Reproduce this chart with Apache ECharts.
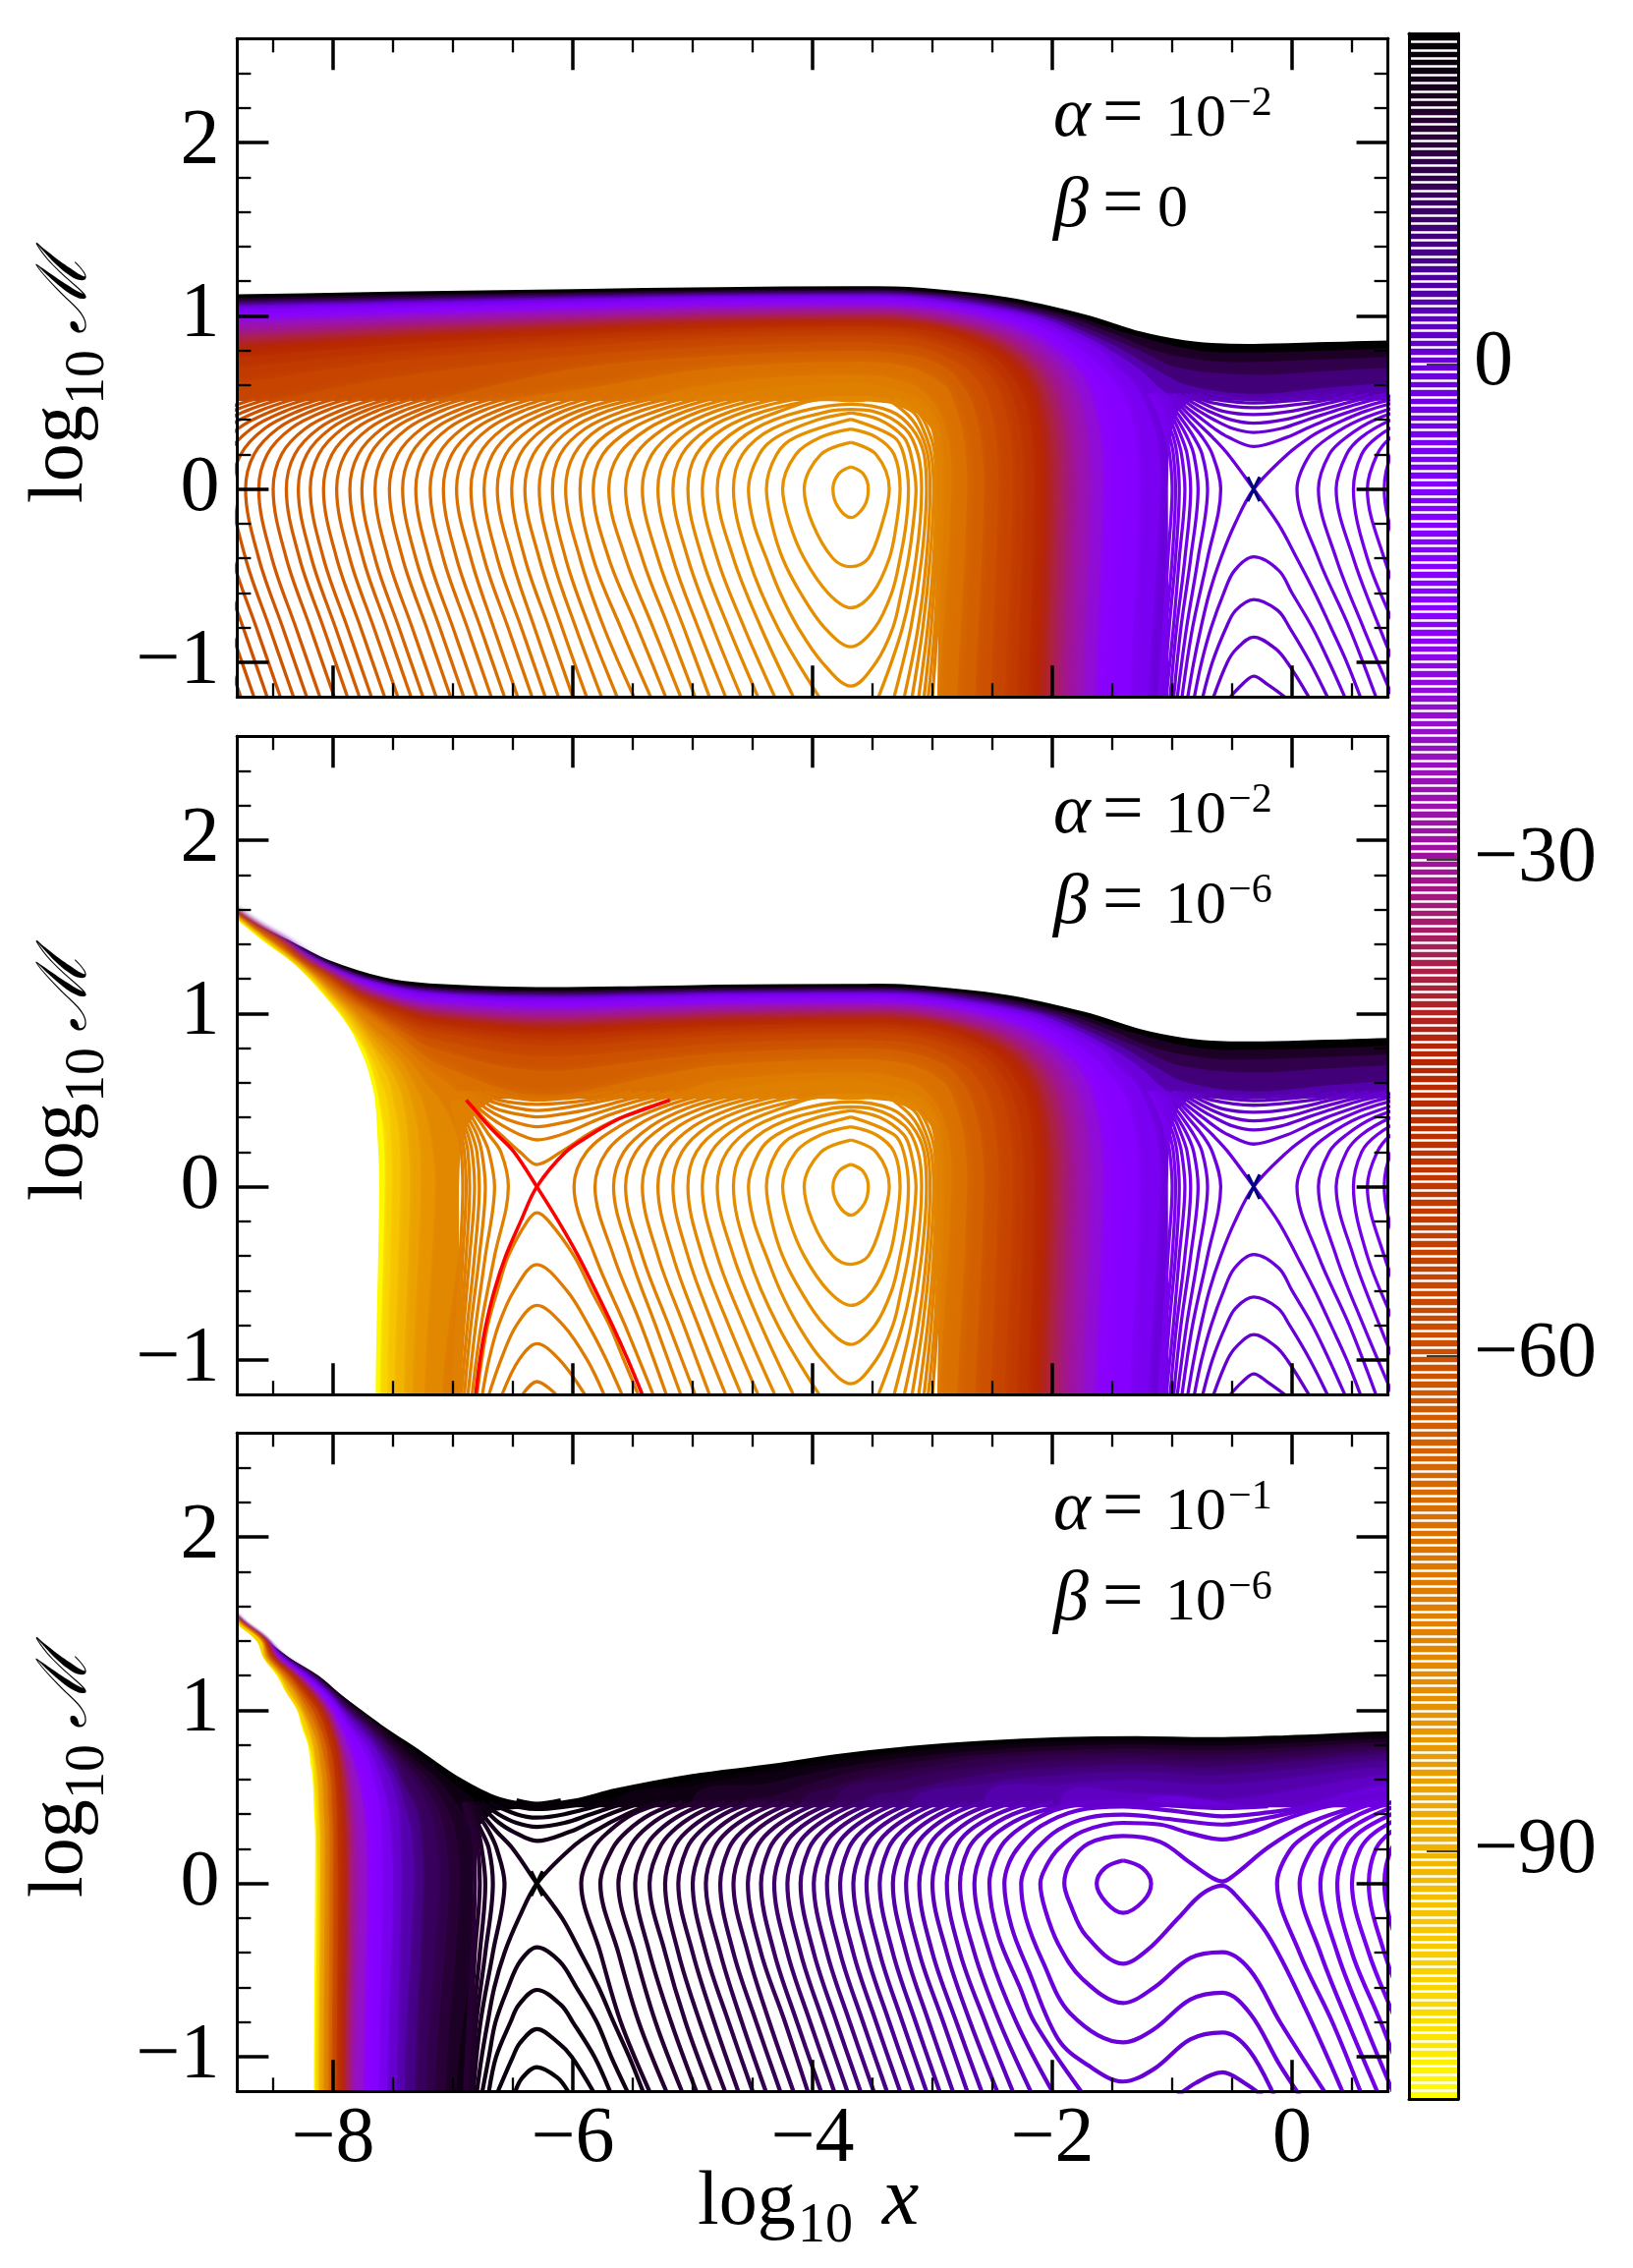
<!DOCTYPE html>
<html><head><meta charset="utf-8"><style>html,body{margin:0;background:#fff}#c{width:1662px;height:2308px}</style>
<script src="https://cdn.jsdelivr.net/npm/echarts@6/dist/echarts.min.js"></script></head><body><div id="c"></div>
<script>
// ---------- colour scale (colour bar) ----------
const cmapL=[20,15,10,5,0,-8,-15,-22,-30,-36,-42,-50,-60,-70,-76,-85,-94,-100,-105];
const cmapC=['#000000','#24002e','#38005c','#4f00a0','#6a00da','#8300ff','#8a00ff','#9310c8','#a0129c','#aa2050','#b62500','#c03800','#cc5000','#da7000','#e08000','#ea9e00','#f6c400','#fadc00','#ffff00'];
const cbarTicks=[0,-30,-60,-90];
const xMajor=[-8,-6,-4,-2,0];
const xMinor=[-8.5,-7.5,-7,-6.5,-5.5,-5,-4.5,-3.5,-3,-2.5,-1.5,-1,-.5,.5];
const yMajor=[-1,0,1,2];
const yMinor=[-.8,-.6,-.4,-.2,.2,.4,.6,.8,1.2,1.4,1.6,1.8,2.2,2.4];
// ---------- closed loops around the centre well, panels 1 and 2 (x,M pairs) ----------
const loops=[
[-3.68,.129,-3.58,.09,-3.535,0,-3.57,-.1,-3.68,-.164,-3.79,-.1,-3.83,0,-3.78,.09,-3.68,.129],
[-3.68,.27,-3.47,.2,-3.36,0,-3.42,-.2,-3.535,-.4,-3.68,-.448,-3.83,-.4,-4,-.2,-4.07,0,-3.93,.2,-3.68,.27],
[-3.68,.346,-3.47,.3,-3.32,.2,-3.27,0,-3.3,-.2,-3.36,-.4,-3.5,-.6,-3.68,-.685,-3.87,-.6,-4.07,-.4,-4.19,-.2,-4.25,0,-4.14,.2,-3.93,.3,-3.68,.346],
[-3.68,.403,-3.32,.3,-3.24,.2,-3.2,0,-3.22,-.2,-3.27,-.4,-3.34,-.6,-3.48,-.8,-3.68,-.91,-3.9,-.8,-4.1,-.6,-4.25,-.4,-4.34,-.2,-4.385,0,-4.3,.2,-4.14,.3,-3.68,.403],
[-3.68,.44,-3.44,.4,-3.24,.3,-3.18,.2,-3.137,0,-3.16,-.2,-3.2,-.4,-3.26,-.6,-3.33,-.8,-3.47,-1,-3.68,-1.137,-3.92,-1,-4.12,-.8,-4.27,-.6,-4.385,-.4,-4.49,-.2,-4.535,0,-4.445,.2,-4.3,.3,-3.96,.4,-3.68,.44]];
// ---------- left arcs: x at each M of arcRows, index = contour number from the well ----------
const arcRows=[-1.2,-.8,-.4,0,.2,.35,.45,.52];
const arcFirst=5;
const arcsP1=[
[-3.945,-4.29,-4.535,-4.66,-4.585,-4.33,-3.86],
[-4.16,-4.43,-4.66,-4.795,-4.715,-4.475,-4.09],
[-4.315,-4.57,-4.795,-4.92,-4.845,-4.61,-4.27,-3.9],
[-4.455,-4.7,-4.92,-5.04,-4.97,-4.74,-4.4,-3.94],
[-4.595,-4.83,-5.04,-5.165,-5.09,-4.87,-4.55,-4.15],
[-4.725,-4.955,-5.165,-5.29,-5.215,-4.99,-4.675,-4.31],
[-4.86,-5.075,-5.29,-5.42,-5.34,-5.115,-4.81,-4.45],
[-4.98,-5.2,-5.42,-5.56,-5.475,-5.24,-4.935,-4.59],
[-5.1,-5.33,-5.56,-5.7,-5.615,-5.37,-5.055,-4.72],
[-5.225,-5.46,-5.7,-5.83,-5.75,-5.505,-5.18,-4.85],
[-5.35,-5.6,-5.83,-5.94,-5.875,-5.645,-5.305,-4.97],
[-5.49,-5.74,-5.94,-6.06,-5.99,-5.78,-5.44,-5.095],
[-5.63,-5.86,-6.06,-6.17,-6.105,-5.895,-5.58,-5.22],
[-5.76,-5.975,-6.17,-6.28,-6.215,-6.01,-5.715,-5.35],
[-5.885,-6.09,-6.28,-6.4,-6.33,-6.125,-5.845,-5.48],
[-6,-6.2,-6.4,-6.51,-6.44,-6.24,-5.96,-5.62],
[-6.12,-6.32,-6.51,-6.63,-6.56,-6.35,-6.08,-5.77],
[-6.23,-6.43,-6.63,-6.74,-6.67,-6.47,-6.19,-5.89],
[-6.34,-6.54,-6.74,-6.85,-6.78,-6.58,-6.3,-6],
[-6.46,-6.66,-6.85,-6.97,-6.9,-6.7,-6.42,-6.12],
[-6.57,-6.77,-6.97,-7.08,-7.01,-6.81,-6.53,-6.23],
[-6.68,-6.88,-7.08,-7.19,-7.12,-6.92,-6.64,-6.34],
[-6.8,-7,-7.2,-7.31,-7.24,-7.04,-6.76,-6.46],
[-6.91,-7.11,-7.31,-7.42,-7.35,-7.15,-6.87,-6.57],
[-7.02,-7.22,-7.42,-7.53,-7.46,-7.26,-6.98,-6.68],
[-7.14,-7.34,-7.54,-7.65,-7.58,-7.38,-7.1,-6.8],
[-7.25,-7.45,-7.65,-7.76,-7.69,-7.49,-7.21,-6.91],
[-7.35,-7.55,-7.75,-7.86,-7.79,-7.59,-7.31,-7.01],
[-7.46,-7.66,-7.86,-7.97,-7.9,-7.7,-7.42,-7.12],
[-7.57,-7.77,-7.97,-8.08,-8.01,-7.81,-7.53,-7.23],
[-7.68,-7.88,-8.08,-8.19,-8.12,-7.92,-7.64,-7.34],
[-7.78,-7.98,-8.18,-8.29,-8.22,-8.02,-7.74,-7.44],
[-7.88,-8.08,-8.28,-8.39,-8.32,-8.12,-7.84,-7.54],
[-7.99,-8.19,-8.39,-8.5,-8.43,-8.23,-7.95,-7.65],
[-8.11,-8.31,-8.51,-8.62,-8.55,-8.35,-8.07,-7.77],
[-8.22,-8.42,-8.62,-8.73,-8.66,-8.46,-8.18,-7.88],
[-8.33,-8.53,-8.73,-8.84,-8.77,-8.57,-8.29,-7.99],
[-8.44,-8.64,-8.84,-8.95,-8.88,-8.68,-8.4,-8.1],
[-8.55,-8.75,-8.95,-9.06,-8.99,-8.79,-8.51,-8.21],
[-8.66,-8.86,-9.06,-9.17,-9.1,-8.9,-8.62,-8.32],
[-8.77,-8.97,-9.17,-9.28,-9.21,-9.01,-8.73,-8.43],
[-8.88,-9.08,-9.28,-9.39,-9.32,-9.12,-8.84,-8.54],
[-8.99,-9.19,-9.39,-9.5,-9.43,-9.23,-8.95,-8.65]];
const arcsP2Near=[ // contours 13,14,15 of panel 2
[-5.1,-5.31,-5.52,-5.66,-5.575,-5.345,-5.055,-4.72],
[-5.22,-5.43,-5.66,-5.815,-5.72,-5.47,-5.175,-4.85],
[-5.33,-5.565,-5.815,-5.99,-5.885,-5.61,-5.29,-4.97]];
// right branches of the same arcs, contours 5..12
const rightArcs=[
[-3.45,-3.25,-3.137,-3.09,-3.12,-3.23,-3.5],
[-3.32,-3.18,-3.09,-3.05,-3.07,-3.17,-3.35],
[-3.235,-3.12,-3.05,-3.02,-3.04,-3.12,-3.24,-3.42],
[-3.17,-3.08,-3.02,-2.99,-3.01,-3.08,-3.17,-3.45],
[-3.115,-3.04,-2.99,-2.97,-2.98,-3.04,-3.13,-3.32],
[-3.07,-3.01,-2.97,-2.95,-2.96,-3,-3.08,-3.24],
[-3.035,-2.98,-2.95,-2.93,-2.94,-2.97,-3.04,-3.17],
[-3,-2.96,-2.93,-2.91,-2.92,-2.95,-3.01,-3.11]];
const archTops=[.46,.49,.51,.53];
// ---------- saddle near x=-0.32, panels 1 and 2 ----------
const sadRows=[-1.2,-.8,-.4,0,.2,.3,.4,.5,.55];
const sadLeft=[
[-.918,-.83,-.705,-.595,-.665,-.75,-.87,-.99,-1.06],[-.957,-.88,-.784,-.705,-.75,-.82,-.917,-1.025,-1.08],
[-.987,-.927,-.846,-.784,-.82,-.875,-.956,-1.05,-1.1],[-1.017,-.963,-.894,-.846,-.875,-.922,-.985,-1.07,-1.12],
[-1.05,-.99,-.941,-.894,-.922,-.96,-1.015,-1.095,-1.14],[-1.07,-1.025,-.972,-.941,-.96,-.99,-1.05,-1.11,-1.16],
[-1.09,-1.05,-1,-.972,-.99,-1.02,-1.07,-1.13,-1.18],[-1.11,-1.07,-1.035,-1,-1.02,-1.05,-1.09,-1.15,-1.2]];
const sadRight=[
[.7,.478,.22,.041,.15,.31,.565,.99,1.28],[.84,.595,.368,.22,.31,.454,.69,1.11,1.38],
[.97,.73,.512,.368,.454,.58,.83,1.23,1.5],[1.09,.86,.628,.512,.58,.71,.96,1.35,1.6],
[1.2,.99,.769,.628,.71,.83,1.08,1.45,1.7],[1.32,1.11,.9,.769,.83,.96,1.2,1.55,1.8]];
const sadCross=[
[0,-1.04,.55,-.96,.5,-.89,.45,-.815,.4,-.74,.35,-.665,.3,-.533,.2,-.32,0,-.116,-.2,.041,-.4,.19,-.6,.325,-.8,.457,-1,.57,-1.2],
[0,-.87,-1.2,-.82,-1,-.76,-.8,-.69,-.6,-.595,-.4,-.476,-.2,-.32,0,-.04,.2,.15,.3,.28,.35,.436,.4,.614,.45,.86,.5,1.16,.55],
[1,-1,.55,-.93,.5,-.84,.45,-.745,.4,-.65,.35,-.533,.3,-.32,.246,-.04,.3,.12,.35,.29,.4,.495,.45,.727,.5,1.04,.55],
[1,-.815,-1.2,-.755,-1,-.675,-.8,-.57,-.6,-.48,-.47,-.32,-.391,-.11,-.47,0,-.6,.17,-.8,.31,-1,.44,-1.2],
[2,-.975,.55,-.88,.5,-.775,.45,-.65,.4,-.495,.35,-.32,.327,-.09,.35,.125,.4,.35,.45,.59,.5,.91,.55],
[2,-.745,-1.2,-.665,-1,-.55,-.8,-.47,-.7,-.32,-.637,-.12,-.7,-.02,-.8,.15,-1,.295,-1.2],
[3,-.945,.55,-.83,.5,-.695,.45,-.51,.4,-.32,.38,-.07,.4,.2,.45,.47,.5,.78,.55],
[3,-.655,-1.2,-.54,-1,-.46,-.92,-.32,-.854,-.14,-.92,-.04,-1,.14,-1.2],
[4,-.9,.55,-.76,.5,-.58,.45,-.32,.43,0,.45,.325,.5,.64,.55],
[4,-.515,-1.2,-.42,-1.13,-.32,-1.08,-.2,-1.13,-.06,-1.2],
[5,-.85,.55,-.675,.5,-.32,.47,.17,.5,.52,.55],
[6,-.79,.55,-.66,.52,-.32,.497,.14,.52,.38,.55],
[7,-.71,.55,-.32,.516,.23,.55]];
const navyX=[[-.37,.07,-.32,0,-.27,-.07],[-.37,-.07,-.32,0,-.27,.07]];
// ---------- saddle near x=-6.3, panel 2 ----------
const p2Rows=[-1.2,-.8,-.4,0,.2,.3,.4,.5];
const p2Left=[
[-6.84,-6.765,-6.653,-6.538,-6.6,-6.7,-6.8,-6.91],[-6.875,-6.81,-6.73,-6.653,-6.7,-6.76,-6.84,-6.93],
[-6.905,-6.85,-6.78,-6.73,-6.76,-6.8,-6.875,-6.955],[-6.93,-6.88,-6.82,-6.78,-6.8,-6.84,-6.905,-6.97],
[-6.95,-6.91,-6.86,-6.82,-6.84,-6.875,-6.93,-6.98],[-6.97,-6.93,-6.89,-6.86,-6.875,-6.905,-6.95,-7],
[-6.99,-6.95,-6.918,-6.89,-6.905,-6.93,-6.97,-7.01],[-7,-6.97,-6.94,-6.918,-6.93,-6.95,-6.98,-7.02]];
const p2Cross=[
[1,-6.94,.55,-6.88,.5,-6.81,.45,-6.75,.4,-6.68,.35,-6.6,.3,-6.44,.2,-6.3,.128,-6.1,.2,-5.88,.3,-5.75,.35,-5.59,.4,-5.41,.45,-5.19,.5,-4.9,.55],
[1,-6.8,-1.2,-6.76,-1,-6.71,-.8,-6.63,-.6,-6.538,-.4,-6.38,-.2,-6.3,-.15,-6.2,-.2,-5.99,-.4,-5.845,-.6,-5.695,-.8,-5.575,-1,-5.455,-1.2],
[2,-6.92,.55,-6.85,.5,-6.78,.45,-6.69,.4,-6.58,.35,-6.44,.3,-6.3,.27,-6.1,.3,-5.92,.35,-5.75,.4,-5.54,.45,-5.31,.5,-5.03,.55],
[2,-6.755,-1.2,-6.7,-1,-6.62,-.8,-6.49,-.6,-6.3,-.449,-6.05,-.6,-5.87,-.8,-5.72,-1,-5.59,-1.2],
[3,-6.89,.55,-6.81,.5,-6.72,.45,-6.59,.4,-6.47,.37,-6.3,.346,-6.08,.37,-5.91,.4,-5.68,.45,-5.43,.5,-5.15,.55],
[3,-6.7,-1.2,-6.6,-1,-6.47,-.8,-6.3,-.685,-6.08,-.8,-5.88,-1,-5.74,-1.2],
[4,-6.86,.55,-6.76,.5,-6.64,.45,-6.47,.42,-6.3,.403,-6.08,.42,-5.84,.45,-5.56,.5,-5.27,.55],
[4,-6.59,-1.2,-6.45,-1,-6.3,-.906,-6.11,-1,-5.9,-1.2],
[5,-6.82,.55,-6.71,.5,-6.51,.46,-6.3,.44,-6.03,.46,-5.71,.5,-5.39,.55],
[5,-6.42,-1.2,-6.3,-1.125,-6.14,-1.2],
[6,-6.78,.55,-6.62,.5,-6.3,.475,-5.86,.5,-5.51,.55],
[7,-6.73,.55,-6.3,.5,-5.65,.55]];
const redArms=[
[-6.89,.5,-6.825,.45,-6.765,.4,-6.7,.35,-6.63,.3,-6.49,.2,-6.3,0,-6.12,-.2,-5.955,-.4,-5.81,-.6,-5.67,-.8,-5.54,-1,-5.42,-1.2],
[-6.81,-1.2,-6.775,-1,-6.725,-.8,-6.655,-.6,-6.56,-.4,-6.435,-.2,-6.3,0,-6.06,.2,-5.85,.3,-5.73,.35,-5.59,.4,-5.39,.45,-5.19,.5]];
// ---------- panel 3 contours ----------
const p3Rows=[-1.2,-.8,-.4,0,.2,.3,.4,.47];
const p3First=6;
const p3Arcs=[
[-2,-2.3,-2.525,-2.65,-2.575,-2.45,-2.18,-1.75],[-2.18,-2.44,-2.65,-2.77,-2.7,-2.575,-2.33,-1.99],
[-2.33,-2.56,-2.77,-2.88,-2.81,-2.7,-2.46,-2.17],[-2.46,-2.685,-2.88,-3,-2.93,-2.81,-2.59,-2.32],
[-2.59,-2.8,-3,-3.11,-3.04,-2.93,-2.71,-2.45],[-2.71,-2.91,-3.11,-3.22,-3.15,-3.04,-2.83,-2.58],
[-2.83,-3.03,-3.22,-3.33,-3.26,-3.15,-2.94,-2.71],[-2.94,-3.14,-3.33,-3.44,-3.37,-3.26,-3.05,-2.82],
[-3.05,-3.25,-3.44,-3.55,-3.48,-3.37,-3.16,-2.94],[-3.16,-3.36,-3.55,-3.66,-3.59,-3.48,-3.27,-3.05],
[-3.27,-3.47,-3.66,-3.77,-3.7,-3.59,-3.38,-3.16],[-3.38,-3.58,-3.77,-3.88,-3.81,-3.7,-3.49,-3.27],
[-3.49,-3.69,-3.88,-3.99,-3.92,-3.81,-3.6,-3.38],[-3.6,-3.8,-3.99,-4.1,-4.03,-3.92,-3.71,-3.49],
[-3.71,-3.91,-4.1,-4.21,-4.14,-4.03,-3.82,-3.6],[-3.82,-4.02,-4.21,-4.32,-4.25,-4.14,-3.93,-3.71],
[-3.93,-4.13,-4.32,-4.43,-4.36,-4.25,-4.04,-3.82],[-4.04,-4.23,-4.43,-4.54,-4.47,-4.36,-4.15,-3.93],
[-4.16,-4.36,-4.54,-4.66,-4.59,-4.48,-4.27,-4.04],[-4.27,-4.47,-4.66,-4.77,-4.7,-4.59,-4.38,-4.16],
[-4.39,-4.59,-4.77,-4.89,-4.82,-4.71,-4.5,-4.27],[-4.5,-4.7,-4.89,-5,-4.93,-4.82,-4.62,-4.39],
[-4.62,-4.82,-5,-5.12,-5.05,-4.94,-4.74,-4.5],[-4.73,-4.94,-5.12,-5.23,-5.16,-5.05,-4.85,-4.62],
[-4.85,-5.06,-5.23,-5.36,-5.28,-5.17,-4.97,-4.73],[-4.97,-5.18,-5.36,-5.48,-5.4,-5.29,-5.09,-4.85],
[-5.09,-5.31,-5.48,-5.62,-5.53,-5.42,-5.22,-4.97],[-5.22,-5.45,-5.62,-5.77,-5.67,-5.55,-5.35,-5.09],
[-5.36,-5.6,-5.77,-5.93,-5.83,-5.7,-5.5,-5.22]];
const p3Well=[ // [contour number, x,M, ...]
[0,-1.41,.133,-1.25,.09,-1.176,0,-1.24,-.1,-1.41,-.17,-1.55,-.11,-1.63,0,-1.56,.09,-1.41,.133],
[1,.8,.49,.42,.42,.11,.34,-.2,.208,-.48,.05,-.58,.012,-.66,.03,-.85,.12,-1.1,.24,-1.41,.274,-1.7,.23,-1.85,.12,-1.9,0,-1.85,-.12,-1.72,-.3,-1.41,-.463,-1.2,-.38,-.95,-.2,-.75,-.06,-.58,-.012,-.48,-.06,-.2,-.3,.11,-.72,.42,-1.2],
[2,.8,.5,.5,.47,.2,.43,-.1,.36,-.35,.29,-.58,.254,-.85,.29,-1.1,.34,-1.41,.35,-1.75,.3,-1.95,.2,-2.05,.1,-2.1,0,-2.06,-.15,-1.95,-.35,-1.75,-.55,-1.41,-.69,-1.15,-.6,-.85,-.43,-.58,-.397,-.35,-.5,-.1,-.8,.27,-1.2],
[3,.8,.51,.2,.44,-.2,.38,-.58,.34,-1,.37,-1.41,.397,-1.7,.38,-1.95,.31,-2.13,.2,-2.22,.1,-2.26,0,-2.22,-.2,-2.08,-.45,-1.85,-.75,-1.41,-.917,-1.15,-.84,-.85,-.67,-.58,-.63,-.35,-.75,-.1,-1.05,.14,-1.3],
[4,.8,.52,.2,.45,-.2,.41,-.58,.388,-1,.42,-1.41,.444,-1.8,.42,-2.1,.33,-2.27,.22,-2.36,.12,-2.4,0,-2.34,-.25,-2.2,-.5,-1.95,-.9,-1.7,-1.05,-1.41,-1.143,-1.15,-1.07,-.85,-.9,-.58,-.86,-.35,-.97,-.1,-1.3],
[5,-.2,.445,-.58,.435,-1,.45,-1.41,.476,-1.9,.44,-2.2,.35,-2.4,.24,-2.49,.12,-2.525,0,-2.45,-.3,-2.27,-.6,-2.15,-.8,-1.76,-1.2],
[5,-1,-1.25,-.8,-1.15,-.58,-1.09,-.4,-1.15,-.2,-1.25]];
const p3RightLevels=[0,-1,-2,-3,-4,-5,-6];
const p3Right=[
[.57,.336,.063,-.125,-.01,.167,.435,.71],[.71,.465,.236,.063,.167,.32,.565,.84],
[.84,.6,.377,.236,.32,.45,.7,.97],[.96,.74,.5,.377,.45,.57,.83,1.1],
[1.08,.87,.64,.5,.57,.7,.96,1.2],[1.2,.99,.77,.64,.7,.83,1.08,1.3],[1.3,1.1,.9,.77,.83,.96,1.2,1.4]];
const p3Left=[
[-6.83,-6.77,-6.667,-6.57,-6.635,-6.7,-6.79,-6.85],[-6.85,-6.805,-6.73,-6.667,-6.7,-6.76,-6.83,-6.87],
[-6.87,-6.83,-6.776,-6.73,-6.76,-6.79,-6.85,-6.89],[-6.89,-6.85,-6.817,-6.776,-6.79,-6.82,-6.87,-6.9],
[-6.9,-6.87,-6.84,-6.817,-6.82,-6.84,-6.89,-6.91]];
const p3Cross=[
[0,-6.83,.47,-6.755,.4,-6.635,.3,-6.5,.2,-6.3,0,-6.09,-.2,-5.934,-.4,-5.785,-.6,-5.66,-.8,-5.53,-1,-5.415,-1.2],
[0,-6.8,-1.2,-6.76,-1,-6.71,-.8,-6.655,-.6,-6.57,-.4,-6.45,-.2,-6.3,0,-6.02,.2,-5.82,.3,-5.55,.4,-5.29,.47],
[1,-6.8,.47,-6.695,.4,-6.615,.35,-6.5,.3,-6.3,.246,-6.02,.3,-5.86,.35,-5.695,.4,-5.41,.47],
[1,-6.755,-1.2,-6.7,-1,-6.645,-.8,-6.54,-.6,-6.44,-.45,-6.3,-.368,-6.11,-.45,-5.97,-.6,-5.8,-.8,-5.68,-1,-5.545,-1.2],
[2,-6.76,.47,-6.62,.4,-6.47,.35,-6.3,.327,-6.07,.35,-5.85,.4,-5.54,.47],
[2,-6.7,-1.2,-6.64,-1,-6.52,-.8,-6.45,-.7,-6.3,-.614,-6.1,-.7,-6,-.8,-5.82,-1,-5.69,-1.2],
[3,-6.7,.47,-6.47,.4,-6.3,.38,-6.07,.4,-5.68,.47],
[3,-6.625,-1.2,-6.5,-1,-6.44,-.92,-6.3,-.84,-6.12,-.92,-6.01,-1,-5.83,-1.2],
[4,-6.62,.47,-6.3,.43,-5.83,.47],
[4,-6.48,-1.2,-6.42,-1.12,-6.3,-1.06,-6.13,-1.12,-6.04,-1.2],
[5,-6.47,.48,-6.3,.46,-6.1,.48]];
const blackX=[[-6.35,.07,-6.3,0,-6.25,-.07],[-6.35,-.07,-6.3,0,-6.25,.07]];
// ---------- dense contour bands, read as level curves ----------
const bandL=[20,16,12,8,4,0,-5,-10,-15,-20,-25,-28,-31,-34,-37,-40,-43,-47,-51,-55,-60,-65,-70,-74,-76];
const bandRight=[
[-4.8,1.157,-3.68,1.162,-3.2,1.158,-2.39,1.1,-1.73,1,-1.26,.9,-.9,.85,-.67,.835,-.32,.83,.3,.84,1.2,.855],
[-4.8,1.149,-3.68,1.153,-3.2,1.149,-2.49,1.1,-1.82,1,-1.38,.9,-.78,.8,-.32,.79,.3,.8,1.2,.82],
[-4.8,1.14,-3.68,1.145,-3.2,1.141,-2.58,1.1,-1.9,1,-1.5,.9,-1.14,.8,-.67,.74,-.32,.735,.3,.75,1.2,.77],
[-4.8,1.131,-3.68,1.136,-3.2,1.132,-2.7,1.1,-1.99,1,-1.61,.9,-1.27,.8,-.94,.7,-.32,.66,.3,.682,1.2,.71],
[-4.8,1.122,-3.68,1.127,-3.2,1.122,-2.83,1.1,-2.07,1,-1.7,.9,-1.4,.8,-1.16,.7,-.87,.6,-.32,.55,.3,.585,1.2,.625],
[-4.8,1.111,-3.68,1.117,-3.2,1.112,-3,1.1,-2.15,1,-1.78,.9,-1.51,.8,-1.29,.7,-1.13,.6,-1,.5,-.98,-1.6],
[-4.8,1.097,-3.68,1.103,-3.2,1.098,-2.26,1,-1.88,.9,-1.6,.8,-1.46,.7,-1.31,.6,-1.23,.5,-1.13,.3,-1.1,0,-1.21,-1.3,-1.21,-1.6],
[-4.8,1.083,-3.68,1.09,-3.2,1.084,-2.38,1,-1.99,.9,-1.76,.8,-1.59,.7,-1.47,.6,-1.38,.5,-1.31,.3,-1.28,0,-1.36,-1.3,-1.36,-1.6],
[-4.8,1.067,-3.68,1.075,-3.2,1.068,-2.51,1,-2.09,.9,-1.85,.8,-1.7,.7,-1.6,.6,-1.53,.5,-1.47,.3,-1.44,0,-1.52,-1.3,-1.52,-1.6],
[-4.8,1.05,-3.68,1.058,-3.2,1.051,-2.63,1,-2.19,.9,-1.96,.8,-1.8,.7,-1.71,.6,-1.66,.5,-1.6,.3,-1.58,0,-1.65,-1.3,-1.65,-1.6],
[-4.8,1.033,-3.68,1.04,-3.2,1.034,-2.78,1,-2.31,.9,-2.06,.8,-1.91,.7,-1.82,.6,-1.76,.5,-1.71,.3,-1.69,0,-1.75,-1.3,-1.75,-1.6],
[-4.8,1.021,-3.68,1.03,-3.2,1.022,-2.88,1,-2.38,.9,-2.12,.8,-1.98,.7,-1.88,.6,-1.83,.5,-1.78,.3,-1.76,0,-1.81,-1.3,-1.81,-1.6],
[-4.8,1.009,-3.68,1.018,-3.2,1.01,-3.05,1,-2.45,.9,-2.18,.8,-2.03,.7,-1.94,.6,-1.89,.5,-1.84,.3,-1.82,0,-1.87,-1.3,-1.87,-1.6],
[-4.8,.996,-3.68,1.006,-3.2,.998,-2.53,.9,-2.26,.8,-2.1,.7,-2.01,.6,-1.95,.5,-1.9,.3,-1.88,0,-1.94,-1.3,-1.94,-1.6],
[-4.8,.982,-3.68,.993,-3.2,.983,-2.61,.9,-2.32,.8,-2.16,.7,-2.07,.6,-2.02,.5,-1.96,.3,-1.95,0,-2,-1.3,-2,-1.6],
[-4.8,.968,-3.68,.979,-3.2,.97,-2.7,.9,-2.39,.8,-2.22,.7,-2.13,.6,-2.08,.5,-2.03,.3,-2.01,0,-2.06,-1.3,-2.06,-1.6],
[-4.8,.951,-3.68,.964,-3.2,.953,-2.78,.9,-2.46,.8,-2.29,.7,-2.19,.6,-2.14,.5,-2.09,.3,-2.07,0,-2.12,-1.3,-2.12,-1.6],
[-4.8,.927,-3.68,.941,-3.2,.929,-2.92,.9,-2.56,.8,-2.39,.7,-2.29,.6,-2.22,.5,-2.17,.3,-2.15,0,-2.2,-1.3,-2.2,-1.6],
[-4.8,.9,-3.68,.918,-3.2,.903,-2.67,.8,-2.49,.7,-2.38,.6,-2.32,.5,-2.26,.3,-2.24,0,-2.3,-1.3,-2.3,-1.6],
[-4.8,.872,-3.68,.888,-3.2,.873,-2.8,.8,-2.58,.7,-2.47,.6,-2.41,.5,-2.35,.3,-2.33,0,-2.4,-1.3,-2.4,-1.6],
[-4.8,.827,-3.68,.848,-3.2,.83,-3,.8,-2.73,.7,-2.6,.6,-2.53,.5,-2.47,.3,-2.45,0,-2.52,-1.3,-2.52,-1.6],
[-4.8,.77,-3.68,.797,-3.2,.775,-2.89,.7,-2.75,.6,-2.67,.5,-2.6,.3,-2.57,0,-2.65,-1.3,-2.65,-1.6],
[-4.8,.7,-3.68,.735,-3.2,.705,-2.9,.6,-2.82,.5,-2.74,.3,-2.71,0,-2.8,-1.3,-2.8,-1.6],
[-4.8,.61,-3.68,.66,-3.2,.613,-2.99,.5,-2.87,.3,-2.84,0,-2.95,-1.3,-2.95,-1.6],
[-4.8,.54,-3.68,.613,-3.2,.55,-3.1,.5,-2.95,.3,-2.91,0,-3.05,-1.3,-3.05,-1.6]];
const bandLeftM1=[ // M at x=-9,-7.5,-6 in panel 1
[1.113,1.131,1.146],[1.102,1.121,1.137],[1.091,1.11,1.128],[1.079,1.099,1.118],[1.067,1.088,1.108],[1.053,1.076,1.097],
[1.035,1.06,1.082],[1.016,1.043,1.067],[.995,1.024,1.05],[.971,1.003,1.032],[.944,.98,1.012],[.926,.966,.999],
[.906,.95,.986],[.885,.932,.971],[.861,.913,.955],[.834,.892,.938],[.803,.87,.92],[.754,.834,.892],[.693,.79,.861],
[.6,.74,.825],[.45,.645,.768],[.45,.48,.693],[.45,.45,.57],[.45,.45,.45],[.45,.45,.45]];
const bandLeftU2=[ // panel 2: x where each curve crosses M=1.6,1.5,1.4,...
[-8.83,-8.62,-8.33,-8.04,-7.58],[-8.84,-8.63,-8.34,-8.06,-7.64],[-8.84,-8.63,-8.35,-8.07,-7.67],[-8.84,-8.63,-8.35,-8.09,-7.72],
[-8.85,-8.64,-8.36,-8.1,-7.75],[-8.85,-8.64,-8.37,-8.12,-7.77],[-8.85,-8.65,-8.38,-8.14,-7.81],[-8.86,-8.65,-8.39,-8.16,-7.84,-7.32],
[-8.86,-8.66,-8.39,-8.18,-7.87,-7.42],[-8.87,-8.66,-8.4,-8.2,-7.9,-7.5],[-8.87,-8.67,-8.41,-8.21,-7.93,-7.58],[-8.87,-8.67,-8.42,-8.22,-7.95,-7.62],
[-8.87,-8.67,-8.42,-8.23,-7.96,-7.65],[-8.88,-8.68,-8.43,-8.24,-7.97,-7.68],[-8.88,-8.68,-8.43,-8.25,-7.99,-7.72],[-8.88,-8.68,-8.44,-8.25,-8,-7.74,-7.3],
[-8.88,-8.68,-8.44,-8.26,-8.01,-7.76,-7.36],[-8.88,-8.69,-8.45,-8.27,-8.03,-7.79,-7.43],[-8.89,-8.69,-8.45,-8.28,-8.04,-7.82,-7.51],[-8.89,-8.69,-8.46,-8.29,-8.05,-7.85,-7.58,-7.23],
[-8.9,-8.7,-8.47,-8.3,-8.07,-7.87,-7.64,-7.35],[-8.9,-8.7,-8.48,-8.31,-8.09,-7.9,-7.68,-7.43,-7.17],[-8.9,-8.7,-8.48,-8.32,-8.1,-7.92,-7.71,-7.5,-7.32,-7.1],
[-8.9,-8.71,-8.49,-8.33,-8.11,-7.94,-7.74,-7.55,-7.39,-7.24,-7.05,-6.85],null];
const bandLeftT2=[ // panel 2: M at x=-7.2,-6.3,-5.3
[1.165,1.144,1.151],[1.155,1.135,1.143],[1.147,1.126,1.134],[1.138,1.116,1.124],[1.129,1.105,1.114],[1.119,1.094,1.103],
[1.106,1.08,1.09],[1.092,1.063,1.075],[1.078,1.046,1.058],[1.062,1.028,1.04],[1.044,1.008,1.022],[1.034,.995,1.01],
[1.022,.98,.998],[1.01,.966,.983],[.998,.95,.97],[.983,.932,.953],[.97,.913,.935],[.947,.885,.91],[.923,.852,.88],[.896,.815,.848],
[.857,.754,.797],[null,.67,.735],[null,.53,.64],[null,.42,.51],null];
const wall2L=[-78,-82,-86,-90,-94,-98,-104];
const wall2Rows=[-1.2,0,.3,.5,.6,.7,.8,.9,1,1.1,1.2,1.3,1.4,1.5,1.6];
const wall2U=[
[-7.09,-6.9,-6.97,-7.11,-7.23,-7.33,-7.47,-7.64,-7.79,-7.96,-8.12,-8.3,-8.51,-8.71,-8.89],
[-7.24,-7.15,-7.19,-7.26,-7.33,-7.41,-7.53,-7.68,-7.82,-7.98,-8.14,-8.31,-8.52,-8.71,-8.89],
[-7.34,-7.27,-7.29,-7.35,-7.4,-7.48,-7.59,-7.72,-7.84,-8,-8.15,-8.32,-8.52,-8.71,-8.89],
[-7.41,-7.36,-7.38,-7.42,-7.47,-7.54,-7.65,-7.75,-7.87,-8.01,-8.16,-8.33,-8.53,-8.72,-8.9],
[-7.49,-7.44,-7.45,-7.5,-7.53,-7.6,-7.68,-7.78,-7.89,-8.03,-8.17,-8.34,-8.53,-8.72,-8.9],
[-7.55,-7.51,-7.52,-7.55,-7.6,-7.65,-7.73,-7.81,-7.92,-8.05,-8.18,-8.35,-8.53,-8.72,-8.9],
[-7.61,-7.57,-7.58,-7.62,-7.65,-7.69,-7.75,-7.84,-7.94,-8.06,-8.19,-8.35,-8.54,-8.72,-8.9]];
const wall2White=[-7.645,-7.615,-7.63,-7.65,-7.68,-7.72,-7.78,-7.85,-7.95,-8.07,-8.2,-8.35,-8.55,-8.73,-8.9];
const white1=[-9.5,-1.6,-9.5,.507,-3.55,.507,-3.3,.49,-3.1,.43,-2.98,.32,-2.93,.15,-2.92,0,-2.95,-.8,-2.97,-1.6];
const white2=[-6.95,-1.6,-6.95,0,-6.94,.2,-6.88,.35,-6.8,.44,-6.65,.507,-3.55,.507,-3.3,.49,-3.1,.43,-2.98,.32,-2.93,.15,-2.92,0,-2.95,-.8,-2.97,-1.6];
const whiteRight=[-1.03,-1.6,-1.035,0,-1.03,.2,-1,.35,-.95,.45,-.85,.51,1.4,.51,1.4,-1.6];
const white3=[-6.84,-1.6,-6.83,0,-6.82,.2,-6.77,.34,-6.66,.42,-6.3,.44,1.4,.44,1.4,-1.6];
// panel 3 bands
const top3=[-9.5,-2.5,-9.3,1.8,-9,1.62,-8.8,1.515,-8.57,1.4,-8.245,1.229,-7.92,1.07,-7.6,.908,-7.27,.756,-6.95,.605,-6.62,.492,-6.3,.458,-5.98,.482,-5.65,.54,-5,.624,-4.36,.68,-3.81,.737,-3.18,.785,-2.56,.817,-1.93,.836,-1.3,.842,-.67,.836,-.05,.847,.8,.87,2.5,.9,2.5,-2.5];
const right3L=[19,18,16,14,12,10,8,6,4,2,0];
const right3=[
[-6,.42,-5.65,.5,-5,.6,-4.36,.66,-3.81,.72,-3.18,.77,-2.56,.805,-1.93,.825,-1.3,.833,-.67,.825,-.05,.838,.8,.862],
[-5.65,.44,-5,.565,-4.36,.64,-3.81,.7,-3.18,.76,-2.56,.797,-1.93,.815,-1.3,.822,-.67,.815,-.05,.828,.8,.853],
[-5,.475,-4.36,.58,-3.81,.665,-3.18,.73,-2.56,.77,-1.93,.795,-1.3,.803,-.67,.795,-.05,.81,.8,.835],
[-4.6,.45,-4.36,.5,-3.81,.62,-3.18,.7,-2.56,.745,-1.93,.77,-1.3,.78,-.67,.77,-.05,.785,.8,.815],
[-4.1,.45,-3.81,.56,-3.18,.655,-2.56,.72,-1.93,.745,-1.3,.75,-.67,.745,-.05,.76,.8,.795],
[-3.81,.47,-3.18,.61,-2.56,.675,-1.93,.71,-1.3,.72,-.67,.71,-.05,.73,.8,.77],
[-3.6,.43,-3.18,.54,-2.56,.63,-1.93,.67,-1.3,.685,-.67,.67,-.05,.7,.8,.745],
[-3.18,.44,-2.56,.575,-1.93,.625,-1.3,.645,-.67,.625,-.05,.655,.8,.71],
[-2.56,.485,-1.93,.57,-1.3,.595,-.67,.57,-.05,.605,.8,.67],
[-1.93,.48,-1.3,.52,-.67,.48,-.05,.53,.8,.625],
[-1.3,.4,-.05,.43,.8,.57]];
const left3L=[18,16,14,12,10,7,4,1,-4,-9,-15,-22,-28,-32,-36,-40,-45,-55,-65,-75,-85,-95,-104];
const left3Rows=[-1.2,0,.3,.44,.6,.7,.8,.9,1,1.1,1.2,1.3];
const left3U=[
[-6.8,-6.8,-6.8,-6.78,-7.03,-7.2,-7.4,-7.58,-7.77,-7.95,-8.12,-8.36],
[-6.97,-6.77,-6.83,-6.95,-7.12,-7.29,-7.45,-7.6,-7.79,-7.97,-8.13,-8.36],
[-7.06,-6.94,-6.98,-7.05,-7.2,-7.35,-7.5,-7.64,-7.81,-7.98,-8.14,-8.37],
[-7.15,-7.03,-7.07,-7.13,-7.27,-7.4,-7.53,-7.68,-7.83,-7.99,-8.15,-8.38],
[-7.23,-7.12,-7.15,-7.21,-7.33,-7.45,-7.55,-7.7,-7.87,-8.01,-8.17,-8.4],
[-7.32,-7.25,-7.27,-7.31,-7.43,-7.49,-7.6,-7.72,-7.89,-8.02,-8.19,-8.41],
[-7.41,-7.33,-7.35,-7.4,-7.47,-7.55,-7.64,-7.76,-7.9,-8.03,-8.2,-8.41],
[-7.47,-7.43,-7.44,-7.46,-7.52,-7.59,-7.67,-7.79,-7.92,-8.04,-8.2,-8.41],
[-7.55,-7.5,-7.52,-7.54,-7.6,-7.65,-7.72,-7.84,-7.94,-8.06,-8.22,-8.42],
[-7.62,-7.59,-7.6,-7.61,-7.66,-7.7,-7.77,-7.87,-7.96,-8.07,-8.24,-8.43],
[-7.68,-7.66,-7.66,-7.67,-7.71,-7.76,-7.83,-7.9,-7.99,-8.1,-8.26,-8.44],
[-7.75,-7.72,-7.73,-7.75,-7.79,-7.83,-7.88,-7.94,-8.02,-8.12,-8.28,-8.45],
[-7.83,-7.79,-7.8,-7.82,-7.85,-7.87,-7.92,-7.97,-8.03,-8.14,-8.29,-8.46],
[-7.85,-7.83,-7.84,-7.85,-7.87,-7.9,-7.94,-7.98,-8.05,-8.16,-8.3,-8.47],
[-7.88,-7.86,-7.865,-7.875,-7.9,-7.92,-7.95,-8,-8.06,-8.17,-8.31,-8.48],
[-7.9,-7.885,-7.89,-7.9,-7.92,-7.94,-7.97,-8.02,-8.08,-8.18,-8.32,-8.49],
[-7.93,-7.915,-7.92,-7.93,-7.95,-7.965,-7.99,-8.03,-8.1,-8.2,-8.33,-8.5],
[-7.97,-7.96,-7.965,-7.97,-7.985,-8,-8.03,-8.07,-8.13,-8.24,-8.36,-8.51],
[-8.01,-8,-8,-8.01,-8.02,-8.04,-8.06,-8.11,-8.17,-8.27,-8.38,-8.53],
[-8.04,-8.03,-8.03,-8.04,-8.05,-8.07,-8.1,-8.14,-8.21,-8.3,-8.41,-8.54],
[-8.08,-8.07,-8.07,-8.08,-8.09,-8.11,-8.13,-8.18,-8.25,-8.32,-8.43,-8.56],
[-8.12,-8.11,-8.11,-8.12,-8.13,-8.15,-8.17,-8.21,-8.27,-8.36,-8.45,-8.57],
[-8.15,-8.135,-8.14,-8.145,-8.16,-8.17,-8.2,-8.25,-8.3,-8.39,-8.46,-8.58]];
const left3White=[-8.16,-8.15,-8.15,-8.16,-8.17,-8.19,-8.21,-8.26,-8.3,-8.39,-8.47,-8.58];
const tailHi=[-8.56,1.4,-8.75,1.5,-8.9,1.6];
const tailLo=[-8.6,1.4,-8.78,1.5,-8.92,1.6];
const tailEdge=[-8.64,1.4,-8.81,1.5,-8.95,1.6];

// ---------- helpers ----------
function hex(c){return [1,3,5].map(i=>parseInt(c.substr(i,2),16));}
function color(L){
  if(L>=cmapL[0])return cmapC[0];
  for(let i=1;i<cmapL.length;i++) if(L>=cmapL[i]){
    const t=(L-cmapL[i])/(cmapL[i-1]-cmapL[i]),a=hex(cmapC[i]),b=hex(cmapC[i-1]);
    return 'rgb('+a.map((v,k)=>Math.round(v+(b[k]-v)*t)).join(',')+')';
  }
  return cmapC[cmapC.length-1];
}
const pairs=f=>{const o=[];for(let i=0;i<f.length;i+=2)o.push([f[i],f[i+1]]);return o;};
const rows=(xs,ms)=>xs.map((x,i)=>[x,ms[i]]);
const series=[];
function addPolys(panel,polys,z){
  series.push({type:'custom',xAxisIndex:panel*4,yAxisIndex:panel*4,clip:true,z,silent:true,animation:false,
    data:polys.map((p,i)=>[i,0]),encode:{x:0,y:1},
    renderItem:(params,api)=>{const p=polys[params.dataIndex];
      const style={fill:p.c,stroke:p.sw?p.c:null,lineWidth:p.sw||0};
      if(p.b){style.shadowBlur=p.b;style.shadowColor=p.c;}
      return {type:'polygon',z2:params.dataIndex,shape:{points:p.pts.map(q=>api.coord(q)),smooth:p.sharp?0:0.35},style};}});
}
function addLine(panel,pts,c,w,z){
  series.push({type:'line',xAxisIndex:panel*4,yAxisIndex:panel*4,data:pts,showSymbol:false,symbol:'none',smooth:0.35,silent:true,animation:false,
    lineStyle:{color:c,width:w},z:z||3});
}
const W12=3.3,W3=4.2;
const wallClose=[[-9.3,1.9],[-9.5,1.9],[-9.5,-2.5]];
// ---------- panels 1 and 2 bands ----------
[0,1].forEach(panel=>{
  const polys=[];
  bandL.forEach((L,i)=>{
    let pts=[];
    if(panel===0){
      const t=bandLeftM1[i];
      pts=[[-9.5,-2.5],[-9.5,t[0]],[-9,t[0]],[-7.5,t[1]],[-6,t[2]]];
    }else if(bandLeftU2[i]){
      pts=[[-9.5,-2.5],[-9.3,1.9]];
      bandLeftU2[i].forEach((u,k)=>pts.push([u,1.6-k*0.1]));
      const t=bandLeftT2[i];
      if(t[0]!==null)pts.push([-7.2,t[0]]);
      pts.push([-6.3,t[1]],[-5.3,t[2]]);
    }else pts=[[-5.5,-2.5],[-5.5,.3]];
    const r=pairs(bandRight[i]);
    pts=pts.concat(r);
    if(L>0){const last=r[r.length-1];pts.push([2.5,last[1]],[2.5,-2.5]);}
    polys.push({pts,c:color(L),sw:i===0?3:0,b:L<=-5?8:0});
  });
  if(panel===1){
    wall2L.forEach((L,i)=>{
      const u=wall2U[i];
      const pts=[[u[0],-2.5]].concat(rows(u,wall2Rows),wallClose);
      polys.push({pts,c:color(L),b:4});
    });
    polys.push({pts:[[wall2White[0],-2.5]].concat(rows(wall2White,wall2Rows),wallClose),c:'#fff'});
  }
  polys.push({pts:pairs(panel===0?white1:white2),c:'#fff',sharp:true});
  polys.push({pts:pairs(whiteRight),c:'#fff',sharp:true});
  addPolys(panel,polys,1);
  const lev=j=>-82+.5*j;
  loops.forEach((f,j)=>addLine(panel,pairs(f),color(lev(j)),W12));
  // arcs
  arcsP1.forEach((xs,idx)=>{
    const j=idx+arcFirst;
    if(panel===1&&j>15)return;
    let useXs=xs;
    if(panel===1&&j>=13)useXs=arcsP2Near[j-13];
    let pts=rows(useXs,arcRows);
    if(idx<rightArcs.length){
      const rp=rows(rightArcs[idx],arcRows).reverse();
      if(idx<4)pts=pts.concat([[-3.68,archTops[idx]]],rp);
      else addLine(panel,rp,color(lev(j)),W12);
    }
    addLine(panel,pts,color(lev(j)),W12);
  });
  // right saddle
  sadLeft.forEach((xs,k)=>addLine(panel,rows(xs,sadRows),color(-.5-.5*(k+1)),W12));
  sadRight.forEach((xs,k)=>addLine(panel,rows(xs,sadRows),color(-.5-.5*(k+1)),W12));
  sadCross.forEach(f=>addLine(panel,pairs(f.slice(1)),color(-.5+.5*f[0]),W12));
  navyX.forEach(f=>addLine(panel,pairs(f),'#000080',W12,4));
  if(panel===1){
    p2Left.forEach(xs=>addLine(panel,rows(xs,p2Rows),color(-76),W12));
    p2Cross.forEach(f=>addLine(panel,pairs(f.slice(1)),color(-75.5+.5*f[0]),W12));
    redArms.forEach(f=>addLine(panel,pairs(f),'#ff0000',3.6,4));
  }
});
// ---------- panel 3 ----------
(function(){
  const polys=[{pts:pairs(top3),c:'#000',sw:3}];
  const lt=[],rt=[];
  left3L.forEach((L,i)=>{
    const tail=L<-100?tailEdge:(L<-45?tailLo:tailHi);
    const u=left3U[i];
    const pts=[[u[0],-2.5]].concat(rows(u,left3Rows),pairs(tail),wallClose);
    lt.push({pts,c:color(L),b:L<=10?4:0});
  });
  right3L.forEach((L,i)=>{
    const p=pairs(right3[i]);
    rt.push({pts:[[p[0][0],-2.5]].concat(p,[[2.5,p[p.length-1][1]],[2.5,-2.5]]),c:color(L),b:L<=12?5:0});
  });
  polys.push(...lt,...rt);
  polys.push({pts:[[left3White[0],-2.5]].concat(rows(left3White,left3Rows),pairs(tailEdge),wallClose),c:'#fff'});
  polys.push({pts:pairs(white3),c:'#fff',sharp:true});
  addPolys(2,polys,1);
  const lev=j=>-1.5+.5*j;
  p3Arcs.forEach((xs,i)=>addLine(2,rows(xs,p3Rows),color(lev(i+p3First)),W3));
  p3Well.forEach(f=>addLine(2,pairs(f.slice(1)),color(lev(f[0])),W3));
  p3Right.forEach((xs,i)=>addLine(2,rows(xs,p3Rows),color(lev(p3RightLevels[i])),W3));
  p3Left.forEach((xs,k)=>addLine(2,rows(xs,p3Rows),color(17-.5*(k+1)),W3));
  p3Cross.forEach(f=>addLine(2,pairs(f.slice(1)),color(17+.5*f[0]),W3));
  blackX.forEach(f=>addLine(2,pairs(f),'#000',W3,4));
})();
// ---------- axes ----------
const tops=[39.3,749.2,1458.3];
const grids=tops.map(t=>({left:241.4,top:t,width:1171.2,height:670}));
grids.push({left:1434,top:34,width:50,height:2102});
const xAxis=[],yAxis=[];
const font='Liberation Serif';
const minus=v=>String(v).replace('-','\u2212');
tops.forEach((t,g)=>{
  [['bottom',xMajor,32,3.5,g===2],['bottom',xMinor,14,2.3,false],['top',xMajor,32,3.5,false],['top',xMinor,14,2.3,false]].forEach(a=>{
    xAxis.push({type:'value',gridIndex:g,position:a[0],min:-8.8,max:.8,z:5,splitLine:{show:false},silent:true,
      axisLine:{show:true,onZero:false,lineStyle:{color:'#000',width:3}},
      axisTick:{show:true,inside:true,length:a[2],customValues:a[1],lineStyle:{color:'#000',width:a[3]}},
      axisLabel:{show:a[4],customValues:a[1],fontFamily:font,fontSize:80,color:'#000',margin:10,formatter:minus}});
  });
  [['left',yMajor,32,3.5,true],['left',yMinor,14,2.3,false],['right',yMajor,32,3.5,false],['right',yMinor,14,2.3,false]].forEach(a=>{
    yAxis.push({type:'value',gridIndex:g,position:a[0],min:-1.2,max:2.6,z:5,splitLine:{show:false},silent:true,
      axisLine:{show:true,onZero:false,lineStyle:{color:'#000',width:3}},
      axisTick:{show:true,inside:true,length:a[2],customValues:a[1],lineStyle:{color:'#000',width:a[3]}},
      axisLabel:{show:a[4],customValues:a[1],fontFamily:font,fontSize:80,color:'#000',margin:18,padding:[9,0,0,0],formatter:minus}});
  });
});
// colour bar axes
xAxis.push({type:'value',gridIndex:3,position:'bottom',min:0,max:1,z:5,splitLine:{show:false},axisTick:{show:false},axisLabel:{show:false},axisLine:{show:true,onZero:false,lineStyle:{color:'#000',width:3}}});
xAxis.push({type:'value',gridIndex:3,position:'top',min:0,max:1,z:5,splitLine:{show:false},axisTick:{show:false},axisLabel:{show:false},axisLine:{show:true,onZero:false,lineStyle:{color:'#000',width:3}}});
yAxis.push({type:'value',gridIndex:3,position:'left',min:-105,max:20,interval:.5,z:4,axisTick:{show:false},axisLabel:{show:false},
  axisLine:{show:true,onZero:false,lineStyle:{color:'#000',width:3}},splitLine:{show:true,lineStyle:{color:'#fff',width:2.6}}});
yAxis.push({type:'value',gridIndex:3,position:'right',min:-105,max:20,z:5,splitLine:{show:false},
  axisLine:{show:true,onZero:false,lineStyle:{color:'#000',width:3}},
  axisTick:{show:true,inside:true,length:32,customValues:cbarTicks,lineStyle:{color:'#000',width:1.5}},
  axisLabel:{show:true,customValues:cbarTicks,fontFamily:font,fontSize:80,color:'#000',margin:16,padding:[12,0,0,0],formatter:minus}});
series.push({type:'custom',xAxisIndex:12,yAxisIndex:12,z:1,silent:true,animation:false,
  data:cmapL.slice(1).map((v,i)=>[i,0]),encode:{x:1,y:1},
  renderItem:(params,api)=>{const i=params.dataIndex,a=api.coord([0,cmapL[i]]),b=api.coord([1,cmapL[i+1]]);
    return {type:'rect',shape:{x:a[0],y:a[1],width:b[0]-a[0],height:b[1]-a[1]},
      style:{fill:new echarts.graphic.LinearGradient(0,0,0,1,[{offset:0,color:cmapC[i]},{offset:1,color:cmapC[i+1]}])}};}});
// ---------- text ----------
const T=(text,base,start,size,opt,rotated)=>{
  const shift=.3375*size;
  const el=rotated?{x:base-shift,y:start,rotation:Math.PI/2}:{x:start,y:base-shift};
  return Object.assign({type:'text',z:20,silent:true,
    style:Object.assign({text,fontFamily:font,fontSize:size,fill:'#000',align:'left',verticalAlign:'middle'},opt||{})},el);
};
const italic={fontStyle:'italic'};
const graphics=[];
const ylabelBase=[512,1222,1931];
ylabelBase.forEach(y=>{
  graphics.push(T('log',89,y,78,null,true));
  graphics.push(T('10',109,y-100,56,null,true));
  graphics.push(T('\u2133',92,y-172,70,{fontFamily:'DejaVu Serif',fontStyle:'italic'},true));
});
graphics.push(T('log',2269,710,78),T('10',2285,812,56),T('x',2269,898,84,italic));
const annot=[['\u22122','10','\u03b1',143],['0',null,'\u03b2',235],['\u22122','10','\u03b1',852],['\u22126','10','\u03b2',944],['\u22121','10','\u03b1',1561],['\u22126','10','\u03b2',1653]];
annot.forEach(a=>{
  graphics.push(T(a[2],a[3],1072,72,italic));
  graphics.push(T('=',a[3],1122,74));
  if(a[1]){graphics.push(T(a[1],a[3],1186,62));graphics.push(T(a[0],a[3]-23,1250,42));}
  else graphics.push(T(a[0],a[3],1178,62));
});
const chart=echarts.init(document.getElementById('c'),null,{renderer:'canvas'});
chart.setOption({animation:false,backgroundColor:'#fff',grid:grids,xAxis,yAxis,series,graphic:graphics});
</script></body></html>
